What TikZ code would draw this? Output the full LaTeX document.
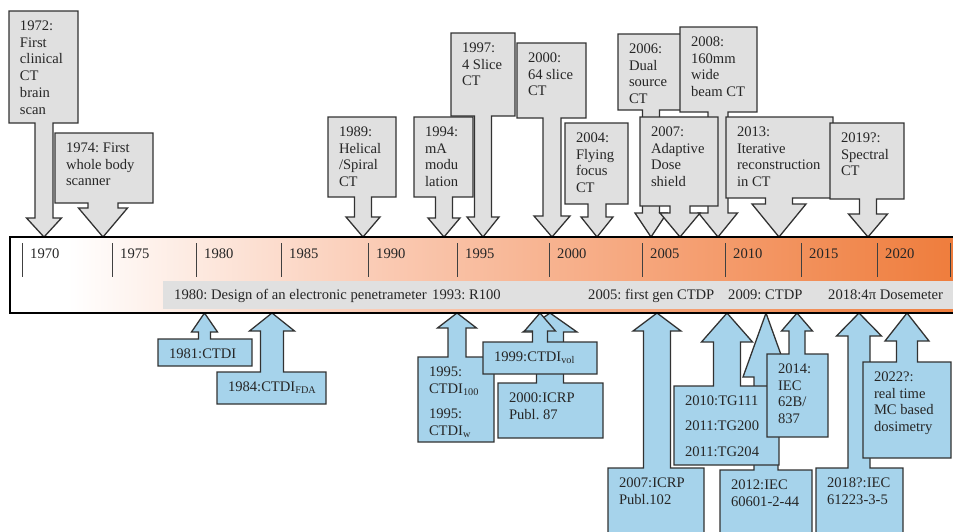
\documentclass[tikz,border=0pt]{standalone}
\usepackage{fontspec}
\setmainfont{Liberation Serif}
\usetikzlibrary{calc}
\frenchspacing
\definecolor{ctgray}{RGB}{224,224,224}
\definecolor{dosblue}{RGB}{166,211,235}
\definecolor{edgegray}{RGB}{50,50,50}
\definecolor{stripgray}{RGB}{224,224,224}
\definecolor{barpeach}{RGB}{250,200,176}
\definecolor{barmid}{RGB}{245,160,115}
\definecolor{barorange}{RGB}{238,122,56}
\pgfdeclarehorizontalshading{barshade}{100bp}{color(0bp)=(white); color(28bp)=(white); color(45bp)=(barpeach); color(60bp)=(barmid); color(75bp)=(barorange); color(100bp)=(barorange)}
\pgfdeclarelayer{callouts}
\pgfsetlayers{callouts,main}
\newcommand{\evtext}[3]{\parbox[c][#2pt][t]{#1pt}{\raggedright\leftskip=11pt\vspace*{7.5pt}\strut#3\strut}}
\newcommand{\downcallout}[5]{%
  \begin{pgfonlayer}{callouts}
  \filldraw[callline, fill=ctgray] (#1.north west) -- (#1.north east) -- (#1.south east)
    -- ($(#2|-#1.south)+(#3,0)$) -- ($(#2)+(#3,-#5)$) -- ($(#2)+(#4,-#5)$) -- (#2)
    -- ($(#2)+(-#4,-#5)$) -- ($(#2)+(-#3,-#5)$) -- ($(#2|-#1.south)+(-#3,0)$)
    -- (#1.south west) -- cycle;
  \end{pgfonlayer}}
\newcommand{\upcallout}[5]{%
  \begin{pgfonlayer}{callouts}
  \filldraw[callline, fill=dosblue] (#1.south west) -- (#1.south east) -- (#1.north east)
    -- ($(#2|-#1.north)+(#3,0)$) -- ($(#2)+(#3,#5)$) -- ($(#2)+(#4,#5)$) -- (#2)
    -- ($(#2)+(-#4,#5)$) -- ($(#2)+(-#3,#5)$) -- ($(#2|-#1.north)+(-#3,0)$)
    -- (#1.north west) -- cycle;
  \end{pgfonlayer}}

\begin{document}
\begin{tikzpicture}[x=1pt, y=-1pt,
  font=\fontsize{14.6pt}{16.8pt}\selectfont,
  evbox/.style={inner sep=0pt, outer sep=0pt, anchor=north west, text=black!85},
  callline/.style={draw=edgegray, line width=1.3pt},
  yeartick/.style={draw=black!75, line width=0.9pt},
  yearlbl/.style={anchor=base west, inner sep=0pt, text=black!85},
  striplbl/.style={anchor=base west, inner sep=0pt, text=black!85}
]
\useasboundingbox (0,0) rectangle (953,531);
\clip (0,0) rectangle (953,531);

% timeline bar
\shade[shading=barshade] (10,237) rectangle (975,313);
\fill[stripgray] (163,281) rectangle (975,309);
\draw[black, line width=1.2pt] (10,237) rectangle (975,313);
\foreach \x in {22,112,196,281,368,457,549,642,725,801,877,950}
  \draw[yeartick] (\x,243) -- (\x,277);
\foreach \x/\yr in {22/1970,112/1975,196/1980,281/1985,368/1990,457/1995,549/2000,642/2005,725/2010,801/2015,877/2020}
  \node[yearlbl] (y\yr) at ({\x+8},258) {\yr};
\node[striplbl] (s1980) at (174,299) {1980: Design of an electronic penetrameter};
\node[striplbl] (s1993) at (432,299) {1993: R100};
\node[striplbl] (s2005) at (588,299) {2005: first gen CTDP};
\node[striplbl] (s2009) at (728,299) {2009: CTDP};
\node[striplbl] (s2018) at (828,299) {2018:4π Dosemeter};

% CT milestones
\coordinate (tip1972) at (44,237);
\coordinate (tip1974) at (103,237);
\coordinate (tip1989) at (363,237);
\coordinate (tip1994) at (444,237);
\coordinate (tip1997) at (483,237);
\coordinate (tip2000) at (552,237);
\coordinate (tip2004) at (597,237);
\coordinate (tip2006) at (651,237);
\coordinate (tip2008) at (718,237);
\coordinate (tip2007) at (680,237);
\coordinate (tip2013) at (779,237);
\coordinate (tip2019) at (868,237);

\node[evbox] (ev1972) at (9,11) {\evtext{69}{112}{1972:\\First\\clinical\\CT\\brain\\scan}};
\downcallout{ev1972}{tip1972}{9}{17.5}{19}
\node[evbox] (ev1974) at (55,133) {\evtext{98}{70}{1974: First\\whole body\\scanner}};
\downcallout{ev1974}{tip1974}{15}{24.5}{29}
\node[evbox] (ev1989) at (328,117) {\evtext{68}{80}{1989:\\Helical\\/Spiral\\CT}};
\downcallout{ev1989}{tip1989}{8.5}{17}{20}
\node[evbox] (ev1997) at (451,33) {\evtext{64}{83}{1997:\\4 Slice\\CT}};
\downcallout{ev1997}{tip1997}{8.5}{16}{20}
\node[evbox] (ev1994) at (414,117) {\evtext{59}{80}{1994:\\mA\\modu\\lation}};
\downcallout{ev1994}{tip1994}{8.5}{16}{19}
\node[evbox] (ev2000) at (517,43) {\evtext{69}{75}{2000:\\64 slice\\CT}};
\downcallout{ev2000}{tip2000}{9}{18}{21}
\node[evbox] (ev2004) at (565,123) {\evtext{63}{81}{2004:\\Flying\\focus\\CT}};
\downcallout{ev2004}{tip2004}{9}{16}{20}
\node[evbox] (ev2006) at (618,34) {\evtext{70}{76}{2006:\\Dual\\source\\CT}};
\downcallout{ev2006}{tip2006}{8.5}{16}{24}
\node[evbox] (ev2008) at (680,27) {\evtext{77}{85}{2008:\\160mm\\wide\\beam CT}};
\downcallout{ev2008}{tip2008}{10}{19.5}{24}
\node[evbox] (ev2007) at (640,117) {\evtext{78}{89}{2007:\\Adaptive\\Dose\\shield}};
\downcallout{ev2007}{tip2007}{10}{20}{24}
\node[evbox] (ev2013) at (726,117) {\evtext{107}{81}{2013:\\Iterative\\reconstruction\\in CT}};
\downcallout{ev2013}{tip2013}{13.5}{27}{33}
\node[evbox] (ev2019) at (830,123) {\evtext{74}{76}{2019?:\\Spectral\\CT}};
\downcallout{ev2019}{tip2019}{8.5}{19.5}{23}

% dosimetry milestones
\coordinate (tip1981) at (204.5,313);
\coordinate (tip1984) at (272,313);
\coordinate (tip1995) at (457,313);
\coordinate (tip2000i) at (550,313);
\coordinate (tip1999) at (540,313);
\coordinate (tip2007i) at (657,313);
\coordinate (tip2012) at (766,313);
\coordinate (tip2010) at (727,313);
\coordinate (tip2014) at (797,313);
\coordinate (tip2018) at (859,313);
\coordinate (tip2022) at (907,313);

\node[evbox] (ds1981) at (158,339) {\evtext{94}{27}{1981:CTDI}};
\upcallout{ds1981}{tip1981}{6}{13}{19}
\node[evbox] (ds1984) at (217,372) {\evtext{109}{32}{1984:CTDI\textsubscript{FDA}}};
\upcallout{ds1984}{tip1984}{11.5}{22.5}{18}
\node[evbox] (ds1995) at (418,357) {\evtext{76}{85}{1995:\\CTDI\textsubscript{100}\\[9pt]1995:\\CTDI\textsubscript{w}}};
\upcallout{ds1995}{tip1995}{9}{19.5}{15}
\node[evbox] (ds2000) at (498,383) {\evtext{105}{55}{2000:ICRP\\Publ. 87}};
\upcallout{ds2000}{tip2000i}{13.5}{27}{19}
\node[evbox] (ds1999) at (483,342) {\evtext{114}{32}{1999:CTDI\textsubscript{vol}}};
\upcallout{ds1999}{tip1999}{7.5}{15.5}{18}
\node[evbox] (ds2007) at (608,468) {\evtext{96}{80}{2007:ICRP\\Publ.102}};
\upcallout{ds2007}{tip2007i}{13.5}{24}{18}
\node[evbox] (ds2012) at (720,470) {\evtext{92}{80}{2012:IEC\\60601-2-44}};
\upcallout{ds2012}{tip2012}{12}{23}{64}
\node[evbox] (ds2010) at (674,386) {\evtext{105}{79}{2010:TG111\\[8.7pt]2011:TG200\\[8.7pt]2011:TG204}};
\upcallout{ds2010}{tip2010}{13.5}{25.5}{29}
\node[evbox] (ds2014) at (767,354) {\evtext{61}{83}{2014:\\IEC\\62B/\\837}};
\upcallout{ds2014}{tip2014}{8}{15.5}{18}
\node[evbox] (ds2018) at (816,468) {\evtext{87}{80}{2018?:IEC\\61223-3-5}};
\upcallout{ds2018}{tip2018}{11}{22.5}{23}
\node[evbox] (ds2022) at (863,362) {\evtext{88}{96}{2022?:\\real time\\MC based\\dosimetry}};
\upcallout{ds2022}{tip2022}{10.5}{22}{28}
\end{tikzpicture}
\end{document}
